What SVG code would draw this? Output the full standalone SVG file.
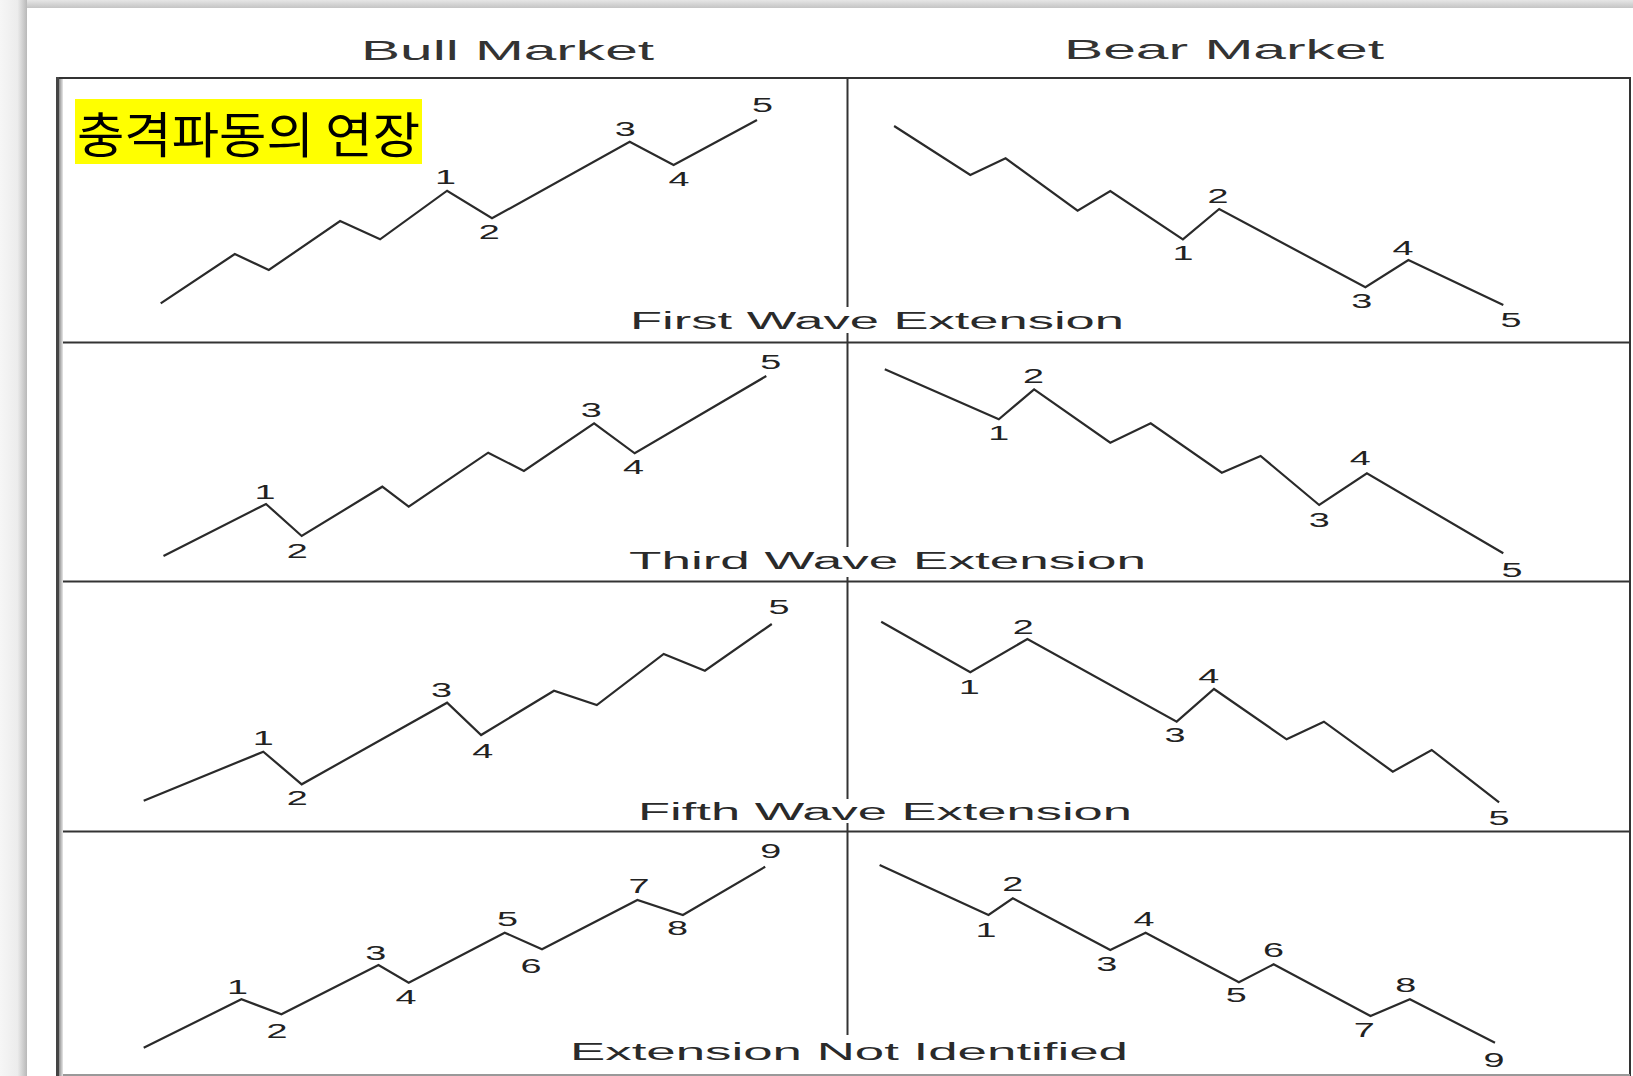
<svg xmlns="http://www.w3.org/2000/svg" width="1633" height="1076" viewBox="0 0 1633 1076">
<defs>
<linearGradient id="shL" x1="0" y1="0" x2="1" y2="0">
<stop offset="0" stop-color="#f6f6f6"/>
<stop offset="0.65" stop-color="#ececec"/>
<stop offset="1" stop-color="#b8b8b8"/>
</linearGradient>
<linearGradient id="shT" x1="0" y1="0" x2="0" y2="1">
<stop offset="0" stop-color="#e6e6e6"/>
<stop offset="1" stop-color="#c4c4c4"/>
</linearGradient>
<linearGradient id="edgeL" x1="0" y1="0" x2="1" y2="0">
<stop offset="0" stop-color="#8a8a8a"/>
<stop offset="1" stop-color="#e8e8e8"/>
</linearGradient>
<style>
.frame{stroke:#333;stroke-width:2;fill:none}
.wave{stroke:#2a2a2a;stroke-width:2.2;fill:none;stroke-linejoin:miter}
.num{font-family:"Liberation Sans",Arial,sans-serif;font-size:20px;fill:#222;text-anchor:middle}
.cap{font-family:"Liberation Sans",Arial,sans-serif;font-size:23.5px;fill:#2a2a2a}
.title{font-family:"Liberation Sans",Arial,sans-serif;font-size:27.5px;fill:#333}
.kr{font-family:"Noto Sans CJK KR",sans-serif;font-size:49px;fill:#000}
</style>
</defs>
<rect x="0" y="0" width="1633" height="1076" fill="#ffffff"/>
<rect x="0" y="0" width="27" height="1076" fill="url(#shL)"/>
<rect x="27" y="0" width="1606" height="8" fill="url(#shT)"/>

<g id="frame">
<line class="frame" x1="56" y1="78" x2="1630" y2="78"/>
<line class="frame" x1="1630" y1="77" x2="1630" y2="1076"/>
<line class="frame" x1="56" y1="342.5" x2="1630" y2="342.5"/>
<line class="frame" x1="56" y1="581.5" x2="1630" y2="581.5"/>
<line class="frame" x1="56" y1="831.5" x2="1630" y2="831.5"/>
<line x1="56" y1="1075" x2="1630" y2="1075" stroke="#999" stroke-width="2"/>
<rect x="56" y="77" width="3" height="999" fill="#444"/>
<rect x="59" y="79" width="4" height="997" fill="url(#edgeL)"/>
<line class="frame" x1="847.5" y1="78" x2="847.5" y2="307"/>
<line class="frame" x1="847.5" y1="333" x2="847.5" y2="547"/>
<line class="frame" x1="847.5" y1="577" x2="847.5" y2="799"/>
<line class="frame" x1="847.5" y1="823" x2="847.5" y2="1035"/>
</g>

<g id="titles">
<text class="title" x="361" y="60" textLength="293" lengthAdjust="spacingAndGlyphs">Bull Market</text>
<text class="title" x="1064" y="58.5" textLength="320" lengthAdjust="spacingAndGlyphs">Bear Market</text>
</g>

<g id="korean-label">
<rect x="75" y="99" width="347" height="65" fill="#ffff00"/>
<text class="kr" x="77" y="153" textLength="343" lengthAdjust="spacingAndGlyphs">충격파동의 연장</text>
</g>

<g id="first-wave-extension">
<polyline class="wave" points="160.7,303.3 234.8,254 268.8,270 340.1,221 380.1,239.3 447.1,190.7 492,218.3 629.7,141.7 673.6,165 757,120"/>
<text class="num" x="445.4" y="184" textLength="21" lengthAdjust="spacingAndGlyphs">1</text>
<text class="num" x="489.3" y="239.3" textLength="21" lengthAdjust="spacingAndGlyphs">2</text>
<text class="num" x="625.3" y="136" textLength="21" lengthAdjust="spacingAndGlyphs">3</text>
<text class="num" x="679.1" y="185.7" textLength="21" lengthAdjust="spacingAndGlyphs">4</text>
<text class="num" x="762.5" y="111.7" textLength="21" lengthAdjust="spacingAndGlyphs">5</text>
<polyline class="wave" points="894.1,126 970.3,175 1005.6,158.3 1077.6,210.7 1110.3,191 1182.9,239.3 1219.2,209 1365.4,287.3 1408.4,260 1503.3,305"/>
<text class="num" x="1182.9" y="260" textLength="21" lengthAdjust="spacingAndGlyphs">1</text>
<text class="num" x="1218" y="203" textLength="21" lengthAdjust="spacingAndGlyphs">2</text>
<text class="num" x="1361.7" y="308" textLength="21" lengthAdjust="spacingAndGlyphs">3</text>
<text class="num" x="1403" y="255" textLength="21" lengthAdjust="spacingAndGlyphs">4</text>
<text class="num" x="1511" y="327" textLength="21" lengthAdjust="spacingAndGlyphs">5</text>
<text class="cap" x="630" y="329" textLength="494" lengthAdjust="spacingAndGlyphs">First Wave Extension</text>
</g>

<g id="third-wave-extension">
<polyline class="wave" points="163.5,556 266,504 301.7,536 382.3,486.7 408.7,506.7 488.2,452.7 523.9,471 594.1,423.3 634.7,453.3 766.3,376"/>
<text class="num" x="265" y="499.3" textLength="21" lengthAdjust="spacingAndGlyphs">1</text>
<text class="num" x="297.3" y="558.3" textLength="21" lengthAdjust="spacingAndGlyphs">2</text>
<text class="num" x="591.3" y="417.3" textLength="21" lengthAdjust="spacingAndGlyphs">3</text>
<text class="num" x="633.6" y="474" textLength="21" lengthAdjust="spacingAndGlyphs">4</text>
<text class="num" x="770.7" y="369.3" textLength="21" lengthAdjust="spacingAndGlyphs">5</text>
<polyline class="wave" points="884.8,369.3 998.8,419.3 1034.1,389.3 1110.3,442.7 1150.7,423.3 1221.8,472.7 1260.6,456 1319.2,505 1366.9,473.3 1503.3,553.3"/>
<text class="num" x="998.8" y="440" textLength="21" lengthAdjust="spacingAndGlyphs">1</text>
<text class="num" x="1033.6" y="382.7" textLength="21" lengthAdjust="spacingAndGlyphs">2</text>
<text class="num" x="1319.2" y="526.7" textLength="21" lengthAdjust="spacingAndGlyphs">3</text>
<text class="num" x="1360.2" y="465" textLength="21" lengthAdjust="spacingAndGlyphs">4</text>
<text class="num" x="1512" y="576.7" textLength="21" lengthAdjust="spacingAndGlyphs">5</text>
<text class="cap" x="629" y="568.5" textLength="517" lengthAdjust="spacingAndGlyphs">Third Wave Extension</text>
</g>

<g id="fifth-wave-extension">
<polyline class="wave" points="143.7,800.7 263.3,751.7 301.7,784.3 447.1,702.7 481.1,735 554,690.7 596.8,705 663.7,654 704.9,670.7 771.8,624"/>
<text class="num" x="263.3" y="745" textLength="21" lengthAdjust="spacingAndGlyphs">1</text>
<text class="num" x="297.3" y="805" textLength="21" lengthAdjust="spacingAndGlyphs">2</text>
<text class="num" x="441.6" y="696.7" textLength="21" lengthAdjust="spacingAndGlyphs">3</text>
<text class="num" x="482.7" y="758.3" textLength="21" lengthAdjust="spacingAndGlyphs">4</text>
<text class="num" x="779" y="614.3" textLength="21" lengthAdjust="spacingAndGlyphs">5</text>
<polyline class="wave" points="881.2,621.7 970.3,672.3 1027.4,639 1176.7,721.7 1214,689 1286.6,739.3 1323.9,721.7 1392.8,771.7 1431.7,750 1499.1,802.3"/>
<text class="num" x="969.3" y="694" textLength="21" lengthAdjust="spacingAndGlyphs">1</text>
<text class="num" x="1023.2" y="634" textLength="21" lengthAdjust="spacingAndGlyphs">2</text>
<text class="num" x="1175.1" y="741.7" textLength="21" lengthAdjust="spacingAndGlyphs">3</text>
<text class="num" x="1208.8" y="683.3" textLength="21" lengthAdjust="spacingAndGlyphs">4</text>
<text class="num" x="1499.1" y="825" textLength="21" lengthAdjust="spacingAndGlyphs">5</text>
<text class="cap" x="638" y="819.5" textLength="494" lengthAdjust="spacingAndGlyphs">Fifth Wave Extension</text>
</g>

<g id="extension-not-identified">
<polyline class="wave" points="143.7,1047.7 241.4,999.3 281.4,1014.3 378.5,965 408.7,982.7 504.7,932.7 542,949.3 637.4,900 682.9,915 765.2,866.7"/>
<text class="num" x="237.5" y="994.3" textLength="21" lengthAdjust="spacingAndGlyphs">1</text>
<text class="num" x="277" y="1038.3" textLength="21" lengthAdjust="spacingAndGlyphs">2</text>
<text class="num" x="375.8" y="960" textLength="21" lengthAdjust="spacingAndGlyphs">3</text>
<text class="num" x="405.9" y="1004" textLength="21" lengthAdjust="spacingAndGlyphs">4</text>
<text class="num" x="507.4" y="926" textLength="21" lengthAdjust="spacingAndGlyphs">5</text>
<text class="num" x="531" y="973.3" textLength="21" lengthAdjust="spacingAndGlyphs">6</text>
<text class="num" x="639" y="893.3" textLength="21" lengthAdjust="spacingAndGlyphs">7</text>
<text class="num" x="677.5" y="935" textLength="21" lengthAdjust="spacingAndGlyphs">8</text>
<text class="num" x="770.7" y="858.3" textLength="21" lengthAdjust="spacingAndGlyphs">9</text>
<polyline class="wave" points="879.6,865 988.5,915 1012.8,898.3 1110.3,950 1145.6,932.7 1238.9,982.3 1273.6,964.3 1370.5,1016 1409.9,999.3 1495,1042.7"/>
<text class="num" x="985.9" y="937.3" textLength="21" lengthAdjust="spacingAndGlyphs">1</text>
<text class="num" x="1012.8" y="890.7" textLength="21" lengthAdjust="spacingAndGlyphs">2</text>
<text class="num" x="1106.7" y="970.7" textLength="21" lengthAdjust="spacingAndGlyphs">3</text>
<text class="num" x="1144" y="926" textLength="21" lengthAdjust="spacingAndGlyphs">4</text>
<text class="num" x="1236.3" y="1001.7" textLength="21" lengthAdjust="spacingAndGlyphs">5</text>
<text class="num" x="1273.6" y="957.3" textLength="21" lengthAdjust="spacingAndGlyphs">6</text>
<text class="num" x="1364.3" y="1037.3" textLength="21" lengthAdjust="spacingAndGlyphs">7</text>
<text class="num" x="1405.8" y="991.7" textLength="21" lengthAdjust="spacingAndGlyphs">8</text>
<text class="num" x="1493.9" y="1066.7" textLength="21" lengthAdjust="spacingAndGlyphs">9</text>
<text class="cap" x="570" y="1059.5" textLength="558" lengthAdjust="spacingAndGlyphs">Extension Not Identified</text>
</g>
</svg>
